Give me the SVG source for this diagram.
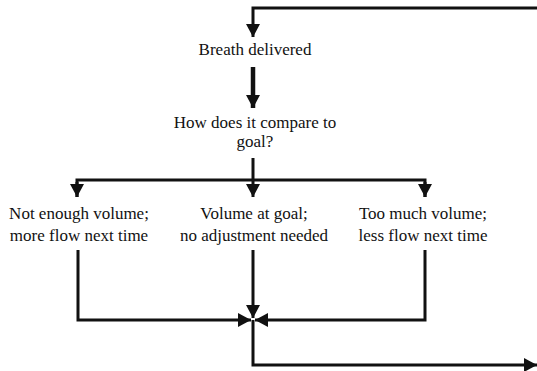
<svg xmlns="http://www.w3.org/2000/svg" width="537" height="371" viewBox="0 0 537 371">
<style>
.t{font-family:"Liberation Serif","Times New Roman",serif;font-size:17px;fill:#111;text-anchor:middle}
.c{fill:none;stroke:#111;stroke-width:3;stroke-linejoin:miter;stroke-linecap:butt}
.thick{stroke-width:4.5}
</style>
<defs>
<marker id="ah" markerUnits="userSpaceOnUse" markerWidth="14" markerHeight="14" viewBox="0 0 14 14" refX="13" refY="7" orient="auto">
<path d="M0,0 L13,7 L0,14 Z" fill="#111"/>
</marker>
</defs>
<g id="connectors">
<path class="c" d="M537,8 H253 V37" marker-end="url(#ah)"/>
<path class="c thick" d="M253,67 V108" marker-end="url(#ah)"/>
<path class="c" d="M253,158 V180"/>
<path class="c" d="M77,197 V180 H425 V197" />
<path class="c" d="M77,182 V197" marker-end="url(#ah)"/>
<path class="c" d="M253,180 V197" marker-end="url(#ah)"/>
<path class="c" d="M425,182 V197" marker-end="url(#ah)"/>
<path class="c" d="M78,250 V320 H251" marker-end="url(#ah)"/>
<path class="c" d="M253,250 V318" marker-end="url(#ah)"/>
<path class="c" d="M425,250 V320 H255" marker-end="url(#ah)"/>
<path class="c" d="M253,320 V365 H537" marker-end="url(#ah)"/>
</g>
<g id="breath"><text class="t" x="255" y="55">Breath delivered</text></g>
<g id="compare"><text class="t" x="255" y="128">How does it compare to</text><text class="t" x="255" y="147">goal?</text></g>
<g id="notenough"><text class="t" x="79" y="219">Not enough volume;</text><text class="t" x="79" y="241">more flow next time</text></g>
<g id="atgoal"><text class="t" x="254" y="219">Volume at goal;</text><text class="t" x="254" y="241">no adjustment needed</text></g>
<g id="toomuch"><text class="t" x="423" y="219">Too much volume;</text><text class="t" x="423" y="241">less flow next time</text></g>
</svg>
